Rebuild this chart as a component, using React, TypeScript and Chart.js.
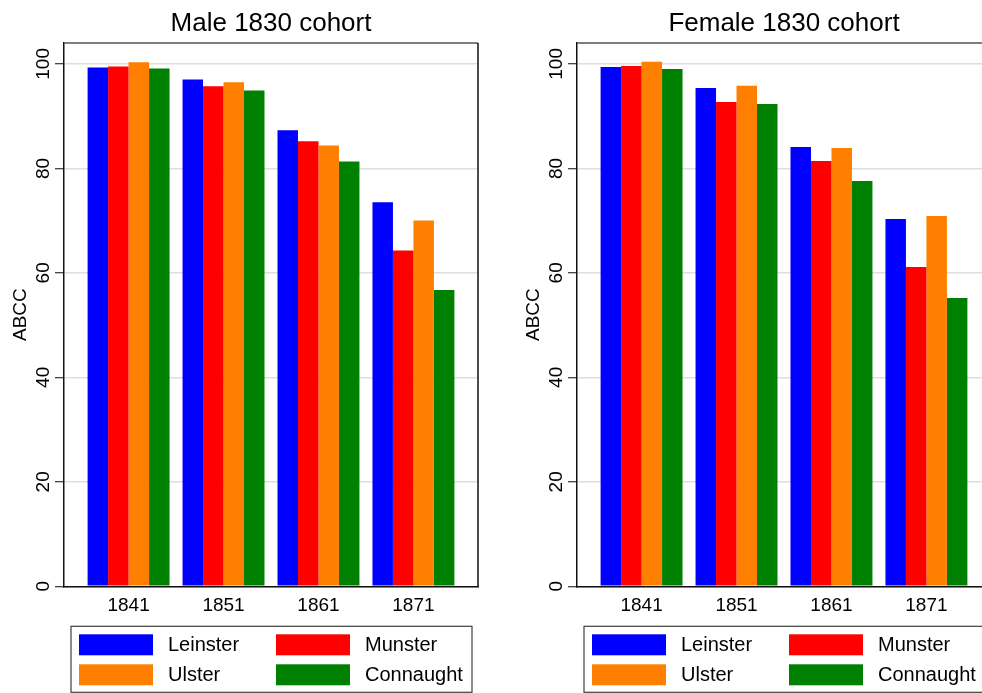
import React, { useEffect, useRef } from 'react';
import { Chart, registerables } from 'chart.js';

Chart.register(...registerables);

// ---- data ----
const categories = ['1841', '1851', '1861', '1871'];
const seriesNames = ['Leinster', 'Munster', 'Ulster', 'Connaught'];
const seriesColors = ['#0000ff', '#ff0000', '#ff8000', '#008000'];
const yTicks = [0, 20, 40, 60, 80, 100];

const maleLeinster = [99.3, 97.0, 87.3, 73.5];
const maleMunster = [99.5, 95.7, 85.2, 64.3];
const maleUlster = [100.3, 96.5, 84.4, 70.0];
const maleConnaught = [99.1, 94.9, 81.3, 56.7];

const femaleLeinster = [99.4, 95.4, 84.1, 70.3];
const femaleMunster = [99.6, 92.7, 81.4, 61.1];
const femaleUlster = [100.4, 95.8, 83.9, 70.9];
const femaleConnaught = [99.0, 92.3, 77.6, 55.2];

const FONT = "'Liberation Sans', Arial, Helvetica, sans-serif";
const CANVAS_W = 490;
const CANVAS_H = 693;

const framePlugin = {
  id: 'frameBox',
  afterDraw(chart: any) {
    const { ctx, chartArea: ca } = chart;
    ctx.save();
    ctx.lineWidth = 1.5;
    ctx.strokeStyle = '#555555';
    ctx.beginPath();
    ctx.moveTo(ca.left, ca.top);
    ctx.lineTo(ca.right, ca.top);
    ctx.stroke();
    ctx.strokeStyle = '#111111';
    ctx.beginPath();
    ctx.moveTo(ca.right, ca.top);
    ctx.lineTo(ca.right, ca.bottom);
    ctx.stroke();
    ctx.restore();
  },
};

const boxLegendPlugin = {
  id: 'boxLegend',
  afterDraw(chart: any) {
    const { ctx, chartArea: ca } = chart;
    const bx = ca.left + 7;
    const by = ca.bottom + 40;
    const bw = 401;
    const bh = 66;
    ctx.save();
    ctx.lineWidth = 1.2;
    ctx.strokeStyle = '#404040';
    ctx.strokeRect(bx, by, bw, bh);
    ctx.font = `20px ${FONT}`;
    ctx.textBaseline = 'middle';
    ctx.textAlign = 'left';
    chart.data.datasets.forEach((ds: any, i: number) => {
      const col = i % 2;
      const row = Math.floor(i / 2);
      const sx = bx + 8 + col * 197;
      const sy = by + 8 + row * 30;
      ctx.fillStyle = ds.backgroundColor;
      ctx.fillRect(sx, sy, 74, 21);
      ctx.fillStyle = '#000000';
      ctx.fillText(ds.label, sx + 89, sy + 11);
    });
    ctx.restore();
  },
};

function makeConfig(title: string, series: number[][]): any {
  return {
    type: 'bar',
    data: {
      datasets: series.map((vals, i) => ({
        label: seriesNames[i],
        backgroundColor: seriesColors[i],
        borderWidth: 0,
        data: categories.map((c, j) => ({ x: Number(c), y: vals[j] })),
      })),
    },
    options: {
      responsive: false,
      animation: false,
      devicePixelRatio: 1,
      events: [],
      layout: { padding: { left: 0, right: 12, top: 0, bottom: 0 } },
      datasets: {
        bar: { categoryPercentage: 0.863, barPercentage: 1.0 },
      },
      plugins: {
        legend: { display: false },
        tooltip: { enabled: false },
        title: {
          display: true,
          fullSize: false,
          text: title,
          color: '#000000',
          font: { family: FONT, size: 26, weight: 'normal' },
          padding: { top: 7.9, bottom: 3.9 },
        },
      },
      scales: {
        x: {
          type: 'linear',
          offset: false,
          min: 1834.2,
          max: 1877.8,
          afterBuildTicks: (scale: any) => {
            scale.ticks = categories.map((c) => ({ value: Number(c) }));
          },
          afterFit: (scale: any) => {
            scale.height = 106.7;
          },
          grid: { display: false, drawTicks: false, offset: false },
          border: { display: true, color: '#111111', width: 1.5, z: 1 },
          ticks: {
            color: '#000000',
            font: { family: FONT, size: 19 },
            padding: 8,
            maxRotation: 0,
            autoSkip: false,
            callback: (v: any) => String(v),
          },
        },
        y: {
          type: 'linear',
          min: 0,
          max: 104,
          afterBuildTicks: (scale: any) => {
            scale.ticks = yTicks.map((v) => ({ value: v }));
          },
          afterFit: (scale: any) => {
            scale.width = 64;
          },
          grid: {
            display: true,
            color: '#dedede',
            lineWidth: 1.4,
            drawTicks: true,
            tickLength: 9,
            tickColor: '#333333',
            tickWidth: 1.2,
          },
          border: { display: true, color: '#111111', width: 1.5, z: 1 },
          ticks: {
            color: '#000000',
            font: { family: FONT, size: 19 },
            minRotation: 90,
            maxRotation: 90,
            crossAlign: 'center',
            padding: -4.6,
            callback: (v: any) => String(v),
          },
          title: {
            display: true,
            text: 'ABCC',
            color: '#000000',
            font: { family: FONT, size: 19 },
            padding: { top: 9, bottom: 0 },
          },
        },
      },
    },
    plugins: [framePlugin, boxLegendPlugin],
  };
}

function CohortChart({ title, series, left }: { title: string; series: number[][]; left: number }) {
  const ref = useRef<HTMLCanvasElement>(null);
  useEffect(() => {
    if (!ref.current) return;
    const chart = new Chart(ref.current, makeConfig(title, series));
    return () => chart.destroy();
  }, [title, series]);
  return (
    <canvas
      ref={ref}
      width={CANVAS_W}
      height={CANVAS_H}
      style={{ position: 'absolute', left, top: 0, width: CANVAS_W, height: CANVAS_H, display: 'block' }}
    />
  );
}

const maleSeries = [maleLeinster, maleMunster, maleUlster, maleConnaught];
const femaleSeries = [femaleLeinster, femaleMunster, femaleUlster, femaleConnaught];

export default function App() {
  return (
    <div
      style={{
        position: 'fixed',
        left: 0,
        top: 0,
        width: 982,
        height: 693,
        overflow: 'hidden',
        background: '#ffffff',
      }}
    >
      <CohortChart title="Male 1830 cohort" series={maleSeries} left={0} />
      <CohortChart title="Female 1830 cohort" series={femaleSeries} left={513} />
    </div>
  );
}
